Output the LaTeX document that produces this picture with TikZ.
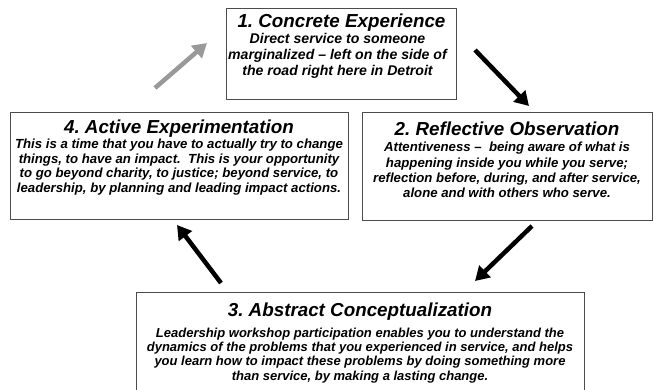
\documentclass[tikz,border=0pt]{standalone}
\usepackage{fontspec}
\setmainfont{Liberation Sans}
\usetikzlibrary{arrows.meta}
\frenchspacing
\begin{document}
\begin{tikzpicture}[x=1pt,y=-1pt,
  box/.style={draw=black!70,line width=0.9pt,fill=white,inner sep=0pt},
  ttl/.style={font=\fontsize{18.8}{22}\selectfont\bfseries\itshape,inner sep=0pt,anchor=center},
  bdy/.style={font=\fontsize{13.2}{15}\selectfont\bfseries\itshape,align=center,inner sep=0pt,anchor=north},
  arr/.style={line width=4.5pt,-{Triangle[length=14pt,width=16pt]}},
  garr/.style={arr,draw=black!40}]
\useasboundingbox (0,0) rectangle (653,390);
% boxes
\node[box,minimum width=230pt,minimum height=91pt] (b1) at (341.5,53.5) {};
\node[box,minimum width=338pt,minimum height=107pt] (b4) at (179,165.5) {};
\node[box,minimum width=290pt,minimum height=108pt] (b2) at (507,166) {};
\node[box,minimum width=448pt,minimum height=102pt] (b3) at (360,343) {};
% texts
\node[ttl] (t1) at (341.5,22.5) {1. Concrete Experience};
\node[bdy,font=\fontsize{14.1}{16}\selectfont\bfseries\itshape] (d1) at (337.5,33) {Direct service to someone\\marginalized -- left on the side of\\the road right here in Detroit};
\node[ttl] (t4) at (179,129) {4. Active Experimentation};
\node[bdy,font=\fontsize{13.2}{14.6}\selectfont\bfseries\itshape] (d4) at (179,139) {This is a time that you have to actually try to change\\things, to have an impact.\ \ This is your opportunity\\to go beyond charity, to justice; beyond service, to\\leadership, by planning and leading impact actions.};
\node[ttl] (t2) at (507,129) {2. Reflective Observation};
\node[bdy,font=\fontsize{13.2}{15.4}\selectfont\bfseries\itshape] (d2) at (507,142) {Attentiveness --\ \ being aware of what is\\happening inside you while you serve;\\reflection before, during, and after service,\\alone and with others who serve.};
\node[ttl] (t3) at (360,311.5) {3. Abstract Conceptualization};
\node[bdy,font=\fontsize{13}{14.3}\selectfont\bfseries\itshape] (d3) at (360,327.5) {Leadership workshop participation enables you to understand the\\dynamics of the problems that you experienced in service, and helps\\you learn how to impact these problems by doing something more\\than service, by making a lasting change.};
% arrow ends
\coordinate (g0) at (155,88);
\coordinate (g1) at (207,43);
\coordinate (a0) at (475,50);
\coordinate (a1) at (529,106);
\coordinate (c0) at (532,226);
\coordinate (c1) at (475,281);
\coordinate (e0) at (221,283);
\coordinate (e1) at (177,225);
\draw[garr] (g0) -- (g1);
\draw[arr] (a0) -- (a1);
\draw[arr] (c0) -- (c1);
\draw[arr] (e0) -- (e1);
\end{tikzpicture}
\end{document}
